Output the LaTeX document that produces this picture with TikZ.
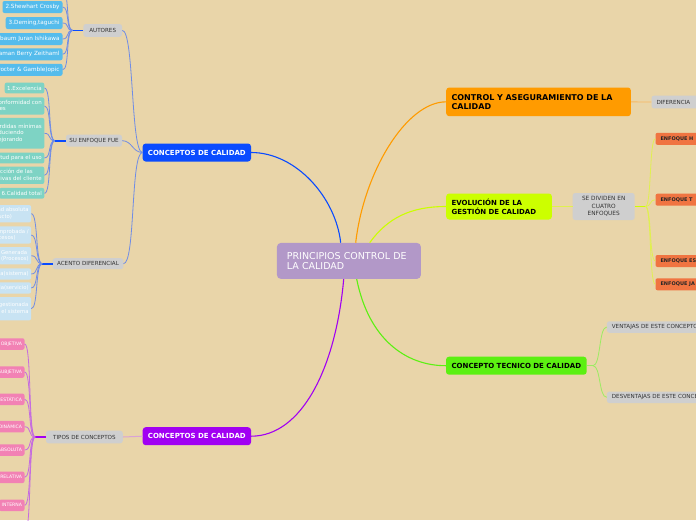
\documentclass[tikz,border=0pt]{standalone}
\usepackage{fontspec}
\setmainfont{DejaVu Sans}
\usetikzlibrary{calc}
\definecolor{bgc}{HTML}{E9D5A9}
\definecolor{grayb}{HTML}{CFCFCF}
\definecolor{graytxt}{HTML}{333333}
\definecolor{authorc}{HTML}{55BCEC}
\definecolor{tealc}{HTML}{7ED3C4}
\definecolor{lbluec}{HTML}{C8E3F3}
\definecolor{pinkc}{HTML}{F281B4}
\definecolor{enfc}{HTML}{F07441}
\definecolor{mblue}{HTML}{0A4BFF}
\definecolor{mpurple}{HTML}{A100F2}
\definecolor{morange}{HTML}{FF9B00}
\definecolor{myellow}{HTML}{CCFF00}
\definecolor{mgreen}{HTML}{5CF012}
\definecolor{centerc}{HTML}{B298C8}
\definecolor{lnblue}{HTML}{6F8CE6}
\definecolor{lnpurple}{HTML}{C56BE0}
\definecolor{lnpink}{HTML}{D9A3D6}
\definecolor{lnorange}{HTML}{F8B860}
\definecolor{lnyellow}{HTML}{E0F050}
\definecolor{lngreen}{HTML}{9CEC62}
\begin{document}
\begin{tikzpicture}[x=1pt,y=-1pt,
  every node/.style={inner sep=0pt},
  mainbox/.style={rounded corners=3pt, font=\bfseries\fontsize{7}{8.5}\selectfont},
  graybox/.style={fill=grayb, rounded corners=2.5pt, text=graytxt, font=\fontsize{5.6}{6.8}\selectfont},
  authorbox/.style={fill=authorc, rounded corners=2pt, text=white, anchor=east, inner xsep=3pt, minimum height=12pt, font=\fontsize{5.7}{6.8}\selectfont},
  tealbox/.style={fill=tealc, rounded corners=2pt, text=white, anchor=east, inner xsep=2.5pt, align=left, font=\fontsize{5.5}{6.6}\selectfont},
  lbluebox/.style={fill=lbluec, rounded corners=2pt, text=white, anchor=east, inner xsep=2.5pt, align=left, font=\fontsize{5.3}{6.6}\selectfont},
  pinkbox/.style={fill=pinkc, rounded corners=2pt, text=white, anchor=east, inner xsep=2.5pt, minimum height=11.5pt, font=\fontsize{4.6}{5.5}\selectfont},
  enfbox/.style={fill=enfc, rounded corners=2pt, text=black!85, anchor=west, inner xsep=5pt, minimum height=12pt, text width=40pt, align=left, font=\bfseries\fontsize{5}{6}\selectfont},
  rgraybox/.style={graybox, anchor=west, inner xsep=5pt, align=left},
  thinblue/.style={draw=lnblue, line width=0.8pt},
  stubblue/.style={draw=mblue, line width=1.8pt},
  thinpurple/.style={draw=lnpurple, line width=0.8pt},
  stubpurple/.style={draw=mpurple, line width=1.8pt},
  thinyellow/.style={draw=lnyellow, line width=0.8pt},
  thingreen/.style={draw=lngreen, line width=0.8pt}
]
\useasboundingbox (0,0) rectangle (696,520);
\clip (0,0) rectangle (696,520);
\fill[bgc] (0,0) rectangle (696,520);

% ---------- main nodes ----------
\node[fill=centerc, rounded corners=4pt, anchor=north west, minimum width=144pt, minimum height=36pt,
  text width=124pt, inner xsep=10pt, align=left, text=white, font=\fontsize{9.5}{10.5}\selectfont]
  (root) at (276.7,242.7) {PRINCIPIOS CONTROL DE\\LA CALIDAD};
\node[mainbox, fill=mblue, text=white, minimum width=108.3pt, minimum height=18pt] (cb) at (196.85,152.5) {CONCEPTOS DE CALIDAD};
\node[mainbox, fill=mpurple, text=white, minimum width=108.3pt, minimum height=18pt] (cp) at (196.85,436.2) {CONCEPTOS DE CALIDAD};
\node[mainbox, fill=morange, text=black, anchor=north west, minimum width=184.7pt, minimum height=28.7pt,
  text width=174pt, inner xsep=5.3pt, align=left, font=\bfseries\fontsize{8}{8.6}\selectfont]
  (ca) at (446,87.3) {CONTROL Y ASEGURAMIENTO DE LA\\CALIDAD};
\node[mainbox, fill=myellow, text=black, anchor=north west, minimum width=105.7pt, minimum height=26pt,
  text width=95pt, inner xsep=5.3pt, align=left, font=\bfseries\fontsize{7}{9.3}\selectfont]
  (ev) at (446,193.3) {EVOLUCIÓN DE LA\\GESTIÓN DE CALIDAD};
\node[mainbox, fill=mgreen, text=black, minimum width=140.7pt, minimum height=18pt] (ct) at (516.35,365.7) {CONCEPTO TECNICO DE CALIDAD};

% ---------- main connectors ----------
\draw[mblue, line width=1.1pt] ($(root.north west)+(64,0)$) .. controls +(-5,-45) and +(45,0) .. (cb.east);
\draw[morange, line width=1.1pt] ($(root.north west)+(79,0)$) .. controls +(8,-70) and +(-40,0) .. (ca.west);
\draw[myellow, line width=1.1pt] ($(root.north west)+(93,0)$) .. controls +(18,-25) and +(-35,0) .. (ev.west);
\draw[mpurple, line width=1.1pt] ($(root.south west)+(67,0)$) .. controls +(-8,90) and +(50,0) .. (cp.east);
\draw[mgreen, line width=1.1pt] ($(root.south west)+(80,0)$) .. controls +(12,60) and +(-40,0) .. (ct.west);

% ---------- right side ----------
\node[rgraybox, minimum height=12.6pt, text width=52pt] (df) at (651.3,102) {DIFERENCIA};
\draw[draw=lnorange, line width=0.8pt] (ca.east) -- (df.west);

\node[graybox, minimum width=62pt, minimum height=27pt, align=center, font=\fontsize{5.8}{7.4}\selectfont] (sd) at (603.7,206.5) {SE DIVIDEN EN\\CUATRO\\ENFOQUES};
\draw[thinyellow] (ev.east) -- (sd.west);
\draw[draw=myellow, line width=1.5pt] (sd.east) -- +(10.6,0) coordinate (sj);
\node[enfbox] (e1) at (655.3,138.8) {ENFOQUE H};
\node[enfbox] (e2) at (655.3,199.7) {ENFOQUE T};
\node[enfbox] (e3) at (655.3,261) {ENFOQUE ES};
\node[enfbox] (e4) at (655.3,284.3) {ENFOQUE JA};
\foreach \e in {e1,e2,e3,e4} \draw[thinyellow] (sj) .. controls +(6,0) and +(-6,0) .. (\e.west);

\node[rgraybox, minimum height=11.5pt, text width=110pt] (vt) at (606.7,327) {VENTAJAS DE ESTE CONCEPTO};
\node[rgraybox, minimum height=11.5pt, text width=110pt] (dv) at (606.7,397.3) {DESVENTAJAS DE ESTE CONCEPTO};
\draw[thingreen] (ct.east) -- +(6,0) coordinate (gj);
\draw[thingreen] (gj) .. controls +(8,0) and +(-8,0) .. (vt.west);
\draw[thingreen] (gj) .. controls +(8,0) and +(-8,0) .. (dv.west);

% ---------- left: gray labels ----------
\node[graybox, minimum width=38.7pt, minimum height=12.7pt] (au) at (102.7,30.4) {AUTORES};
\node[graybox, minimum width=56pt, minimum height=12pt] (se) at (94,140.7) {SU ENFOQUE FUE};
\node[graybox, minimum width=70.6pt, minimum height=11pt] (ad) at (88,263.7) {ACENTO DIFERENCIAL};
\node[graybox, minimum width=76.7pt, minimum height=12.6pt] (tc) at (84.4,437) {TIPOS DE CONCEPTOS};

\draw[thinblue] (cb.west) .. controls +(-12,0) and +(12,0) .. (au.east);
\draw[thinblue] (cb.west) .. controls +(-10,0) and +(10,0) .. (se.east);
\draw[thinblue] (cb.west) .. controls +(-12,0) and +(12,0) .. (ad.east);
\draw[draw=lnpink, line width=1pt] (tc.east) -- (cp.west);

% ---------- authors ----------
\draw[stubblue] (au.west) -- +(-10.6,0) coordinate (aj);
\coordinate (a0) at (62.7,-9);
\node[authorbox] (a1) at (62.7,7) {2.Shewhart Crosby};
\node[authorbox] (a2) at (62.7,23) {3.Deming,taguchi};
\node[authorbox] (a3) at (62.7,39) {4.Feigenbaum Juran Ishikawa};
\node[authorbox] (a4) at (62.7,54.3) {5.Parasuraman Berry Zeithaml};
\node[authorbox] (a5) at (62.7,69.8) {6.(Procter \& Gamble)opic};
\draw[thinblue] (aj) .. controls +(-7,0) and +(7,0) .. (a0);
\foreach \a in {a1,a2,a3,a4,a5} \draw[thinblue] (aj) .. controls +(-7,0) and +(7,0) .. (\a.east);

% ---------- su enfoque fue ----------
\draw[stubblue] (se.west) -- +(-11,0) coordinate (sj2);
\node[tealbox, minimum height=10.7pt] (t1) at (44.5,88) {1.Excelencia};
\node[tealbox, minimum height=17.3pt] (t2) at (44.5,106) {2.Calidad como conformidad con\\las especificaciones};
\node[tealbox, minimum height=30.7pt] (t3) at (44.5,133.3) {3.Pérdidas mínimas\\y reduciendo\\y mejorando};
\node[tealbox, minimum height=10.7pt] (t4) at (44.5,158) {4.Aptitud para el uso};
\node[tealbox, minimum height=17.3pt] (t5) at (44.5,175.3) {5.Satisfacción de las\\expectativas del cliente};
\node[tealbox, minimum height=10.7pt] (t6) at (44.5,193.3) {6.Calidad total};
\foreach \t in {t1,t2,t3,t4,t5,t6} \draw[thinblue] (sj2) .. controls +(-7,0) and +(7,0) .. (\t.east);

% ---------- acento diferencial ----------
\draw[stubblue] (ad.west) -- +(-10.3,0) coordinate (dj);
\node[lbluebox, minimum height=17.3pt] (l1) at (31.3,213.7) {Calidad absoluta\\(producto)};
\node[lbluebox, minimum height=17.3pt] (l2) at (31.3,235) {Calidad comprobada /\\(en los procesos)};
\node[lbluebox, minimum height=17.3pt] (l3) at (31.3,255.7) {Generada\\(Procesos)};
\node[lbluebox, minimum height=11.3pt] (l4) at (31.3,274) {Calidad gestionada(sistema)};
\node[lbluebox, minimum height=11.3pt] (l5) at (31.3,288) {Calidad percibida(servicio)};
\node[lbluebox, minimum height=23.3pt] (l6) at (31.3,308.7) {Calidad gestionada\\por todo el sistema};
\foreach \l in {l1,l2,l3,l4,l5,l6} \draw[thinblue] (dj) .. controls +(-7,0) and +(7,0) .. (\l.east);

% ---------- tipos de conceptos ----------
\draw[stubpurple] (tc.west) -- +(-10.7,0) coordinate (pj);
\node[pinkbox] (p1) at (24.7,344) {OBJETIVA};
\node[pinkbox] (p2) at (24.7,372) {SUBJETIVA};
\node[pinkbox] (p3) at (24.7,399.3) {ESTÁTICA};
\node[pinkbox] (p4) at (24.7,426.7) {DINÁMICA};
\node[pinkbox] (p5) at (24.7,450) {ABSOLUTA};
\node[pinkbox] (p6) at (24.7,477.3) {RELATIVA};
\node[pinkbox] (p7) at (24.7,505.3) {INTERNA};
\coordinate (p8) at (24.7,533);
\foreach \p in {p1,p2,p3,p4,p5,p6,p7} \draw[thinpurple] (pj) .. controls +(-7,0) and +(7,0) .. (\p.east);
\draw[thinpurple] (pj) .. controls +(-7,0) and +(7,0) .. (p8);
\end{tikzpicture}
\end{document}
